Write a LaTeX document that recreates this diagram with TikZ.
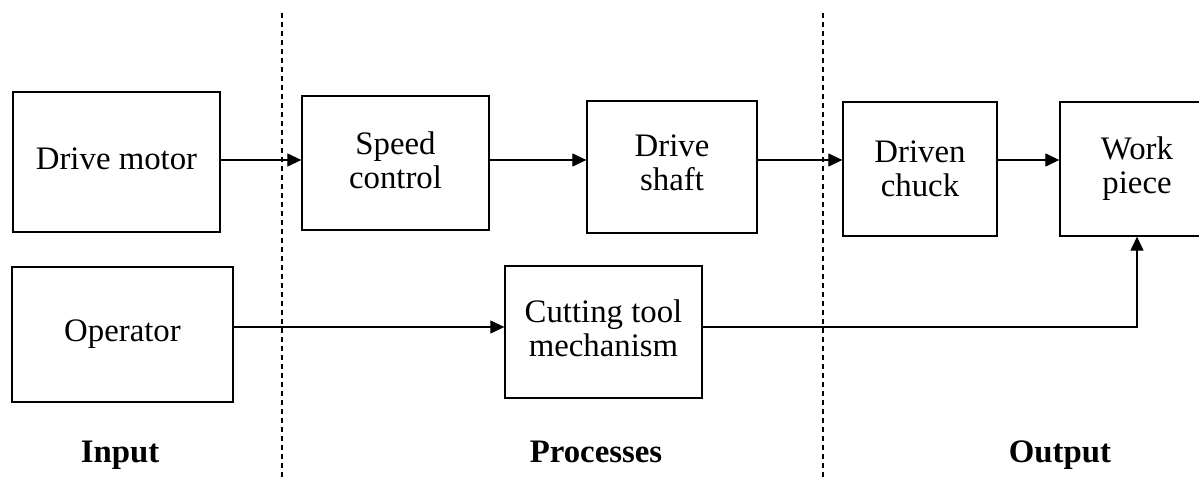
\documentclass[tikz,border=0pt]{standalone}
\usepackage{fontspec}
\setmainfont{Liberation Serif}
\usetikzlibrary{arrows.meta, positioning}

\begin{document}
\begin{tikzpicture}[x=0.5pt, y=-0.5pt,
  blk/.style={draw, line width=0.65pt, inner sep=0pt, align=center, font=\fontsize{16.4}{17}\selectfont},
  arr/.style={-{Triangle[length=7pt,width=6.5pt]}, line width=0.6pt},
  sep/.style={dash pattern=on 2.5pt off 2pt, line width=0.6pt},
  lbl/.style={font=\fontsize{16.4}{17}\selectfont\bfseries, anchor=base}]
  \useasboundingbox (0,0) rectangle (1199,480);
  % dashed borders between the stages
  \draw[sep] (282,13) -- (282,480);
  \draw[sep] (823,13) -- (823,480);
  % top row
  \node[blk, minimum width=103.5pt, minimum height=70pt, text depth=3pt] (motor) at (116.5,162) {Drive motor};
  \node[blk, minimum width=93.5pt, minimum height=67pt, text depth=3pt] (speed) at (395.5,163) {Speed\\control};
  \node[blk, minimum width=85pt, minimum height=66pt, text depth=4pt] (shaft) at (672,167) {Drive\\shaft};
  \node[blk, minimum width=77pt, minimum height=67pt, text depth=-4pt] (chuck) at (920,169) {Driven\\chuck};
  \node[blk, minimum width=77pt, minimum height=67pt] (work) at (1137,169) {Work\\piece};
  % bottom row
  \node[blk, minimum width=110.5pt, minimum height=67.5pt] (op) at (122.5,334.5) {Operator};
  \node[blk, minimum width=98.5pt, minimum height=66pt, text depth=4pt] (cut) at (603.5,332) {Cutting tool\\mechanism};
  % heights of the arrows
  \coordinate (row1) at (0,160);
  \coordinate (row2) at (0,327);
  \draw[arr] (motor.east |- row1) -- (speed.west |- row1);
  \draw[arr] (speed.east |- row1) -- (shaft.west |- row1);
  \draw[arr] (shaft.east |- row1) -- (chuck.west |- row1);
  \draw[arr] (chuck.east |- row1) -- (work.west |- row1);
  \draw[arr] (op.east |- row2) -- (cut.west |- row2);
  \draw[arr] (cut.east |- row2) -| (work.south);
  % stage names
  \node[lbl] (input) at (120,462) {Input};
  \node[lbl] (proc) at (596,462) {Processes};
  \node[lbl] (output) at (1060,462) {Output};
\end{tikzpicture}
\end{document}
